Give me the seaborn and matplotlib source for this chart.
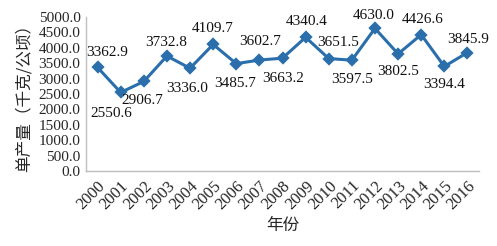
import matplotlib
matplotlib.use("Agg")
import matplotlib.pyplot as plt
import seaborn as sns
import pandas as pd

years = ["2000", "2001", "2002", "2003", "2004", "2005", "2006", "2007", "2008",
         "2009", "2010", "2011", "2012", "2013", "2014", "2015", "2016"]
yields = [3362.9, 2550.6, 2906.7, 3732.8, 3336.0, 4109.7, 3485.7, 3602.7, 3663.2,
          4340.4, 3651.5, 3597.5, 4630.0, 3802.5, 4426.6, 3394.4, 3845.9]
y_ticks = [0, 500, 1000, 1500, 2000, 2500, 3000, 3500, 4000, 4500, 5000]

# label offsets (pixels) – styling only
label_dx = [10, -9, -1, -1, -3, 0, -1, 1, 1, 1, 9, 0, -1, 0, 1, 0, 1]
label_dy = [15, -21, -19, 14, -20, 16, -20, 19, -20, 16, 16, -19, 13, -18, 15, -18, 13]

sns.set_style("white")
serif = ["Liberation Serif", "DejaVu Serif"]
cjk = ["Noto Sans CJK SC", "DejaVu Sans"]

df = pd.DataFrame({"year": years, "yield": yields})
line_color = "#2A6FAB"

fig = plt.figure(figsize=(4.97, 2.46), dpi=100)
ax = fig.add_axes([86 / 497, 1 - 171 / 246, (479 - 86) / 497, (171 - 17) / 246])

sns.pointplot(data=df, x="year", y="yield", ax=ax, color=line_color,
              markers="D", markersize=5, linewidth=2.2, errorbar=None)

ax.set_xlim(-0.5, len(years) - 0.5)
ax.set_ylim(0, 5000)
ax.set_yticks(y_ticks)
ax.set_yticklabels([f"{v:.1f}" for v in y_ticks], family=serif, fontsize=11)
ax.set_xticks(range(len(years)))
ax.set_xticklabels(years, family=serif, fontsize=12, rotation=45,
                   ha="right", rotation_mode="anchor")
ax.tick_params(axis="y", length=3, width=0.8, color="#BFBFBF", pad=1)
ax.tick_params(axis="x", length=0, pad=5)

for side in ["top", "right"]:
    ax.spines[side].set_visible(False)
for side in ["left", "bottom"]:
    ax.spines[side].set_color("#BFBFBF")
    ax.spines[side].set_linewidth(1.0)

for i, v in enumerate(yields):
    ax.annotate(f"{v:.1f}", (i, v), xytext=(label_dx[i], label_dy[i]),
                textcoords="offset pixels", ha="center", va="center",
                family=serif, fontsize=11, color="#111111")

ax.set_ylabel("单产量（千克/公顷）", family=cjk, fontsize=12, labelpad=4)
ax.set_xlabel("年份", family=cjk, fontsize=12, labelpad=3)

fig.savefig("out.png", dpi=100)
